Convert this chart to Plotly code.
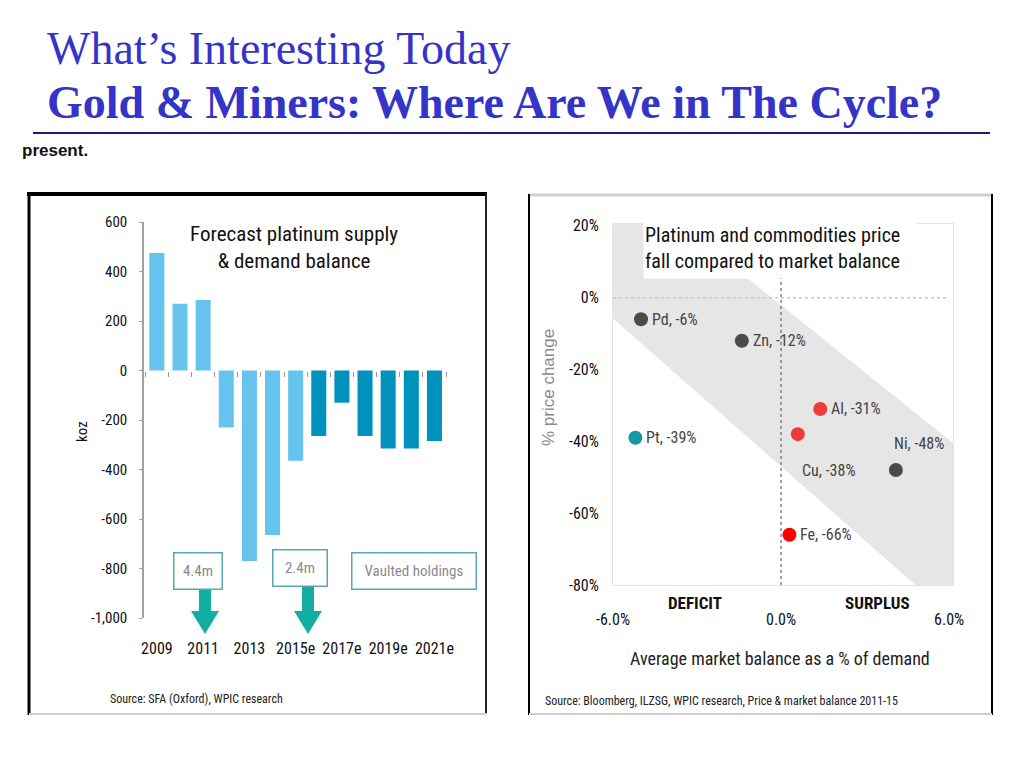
import plotly.graph_objects as go

# ---------------- data ----------------
years = ["2009", "2010", "2011", "2012", "2013", "2014", "2015",
         "2016e", "2017e", "2018e", "2019e", "2020e", "2021e"]
balance_koz = [475, 270, 285, -230, -770, -665, -365,
               -265, -130, -265, -315, -315, -285]
is_forecast = [False] * 7 + [True] * 6
year_tick_labels = ["2009", "2011", "2013", "2015e", "2017e", "2019e", "2021e"]
koz_ticks = [600, 400, 200, 0, -200, -400, -600, -800, -1000]
koz_tick_text = ["600", "400", "200", "0", "-200", "-400", "-600", "-800", "-1,000"]

metals = ["Pd", "Zn", "Al", "Cu", "Ni", "Fe", "Pt"]
mkt_balance = [-5.0, -1.4, 1.4, 0.6, 4.1, 0.3, -5.2]
price_change = [-6, -12, -31, -38, -48, -66, -39]
metal_colors = ["#4a4a4a", "#4a4a4a", "#ee3b3b", "#ee3b3b", "#4a4a4a", "#ff0000", "#1597a8"]
pct_ticks = [20, 0, -20, -40, -60, -80]
pct_tick_text = ["20%", "0%", "-20%", "-40%", "-60%", "-80%"]
bal_ticks = [-6, 0, 6]
bal_tick_text = ["-6.0%", "0.0%", "6.0%"]
band_x = [-6.0, -3.6, 6.14, 6.14, 4.8, -6.0, -6.0]
band_y = [20.5, 20.5, -40.5, -80.0, -80.0, -5.8, 20.5]

NARROW = "Liberation Sans Narrow, Arial Narrow, Roboto Condensed, Liberation Sans, Arial, sans-serif"
SERIF = "Liberation Serif, Times New Roman, serif"
TITLE_BLUE = "#3434c8"
W, H = 1024, 768
OFF = 8  # page body margin


def px(x):
    return (x - OFF) / W


def py(y):
    return 1 - (y - OFF) / H


fig = go.Figure()

# ---------------- left chart ----------------
fig.add_trace(go.Bar(
    x=years, y=balance_koz,
    marker=dict(color=["#0092bd" if f else "#66c3ee" for f in is_forecast], line=dict(width=0)),
    width=0.65, xaxis="x", yaxis="y", showlegend=False, hoverinfo="x+y",
))
fig.add_trace(go.Scatter(x=years, y=[None] * len(years), xaxis="x3", yaxis="y",
                         showlegend=False, hoverinfo="skip"))

# ---------------- right chart ----------------
fig.add_trace(go.Scatter(
    x=band_x, y=band_y, fill="toself", fillcolor="#e6e6e6", mode="none",
    xaxis="x2", yaxis="y2", showlegend=False, hoverinfo="skip",
))
fig.add_trace(go.Scatter(
    x=mkt_balance, y=price_change, mode="markers",
    marker=dict(size=14, color=metal_colors, line=dict(width=0)),
    xaxis="x2", yaxis="y2", showlegend=False,
    text=metals, hovertemplate="%{text}: %{x}, %{y}%<extra></extra>",
))

y_left_dom = [py(618), py(222)]
zero_pos = y_left_dom[0] + (0 - (-1000)) / 1600 * (y_left_dom[1] - y_left_dom[0])

fig.update_layout(
    width=W, height=H, autosize=False, showlegend=False,
    margin=dict(l=0, r=0, t=0, b=0, pad=0, autoexpand=False),
    paper_bgcolor="white", plot_bgcolor="rgba(0,0,0,0)",
    xaxis=dict(domain=[px(143), px(446)], type="category", range=[-0.6, 12.5],
               anchor="free", position=zero_pos, showline=False, ticks="outside",
               tickson="boundaries", ticklen=5, tickcolor="#999999", tickwidth=1,
               showticklabels=False, showgrid=False, zeroline=False, automargin=False),
    xaxis3=dict(domain=[px(143), px(446)], type="category", range=[-0.6, 12.5],
                overlaying="x", anchor="free", position=y_left_dom[0], showline=False,
                ticks="outside", ticklen=16, tickcolor="rgba(0,0,0,0)",
                tickvals=[years[i] for i in range(0, 13, 2)],
                ticktext=year_tick_labels,
                tickfont=dict(family=NARROW, size=16, color="#111"),
                showgrid=False, zeroline=False, automargin=False),
    yaxis=dict(domain=y_left_dom, range=[-1000, 600], anchor="free", position=px(143),
               showline=True, linecolor="#a0a0a0", linewidth=1.5,
               ticks="outside", ticklen=3, tickcolor="#a0a0a0", ticklabelstandoff=9,
               tickvals=koz_ticks, ticktext=koz_tick_text,
               tickfont=dict(family=NARROW, size=15, color="#111"),
               showgrid=False, zeroline=False, automargin=False),
    xaxis2=dict(domain=[px(613), px(953)], range=[-6.0, 6.14], anchor="y2",
                showline=True, mirror=True, linecolor="#e4e4e4", linewidth=1,
                ticks="outside", ticklen=20, tickcolor="rgba(0,0,0,0)",
                tickvals=bal_ticks, ticktext=bal_tick_text,
                tickfont=dict(family=NARROW, size=16, color="#111"),
                showgrid=False, zeroline=False, automargin=False),
    yaxis2=dict(domain=[py(585), py(224)], range=[-80, 20.5], anchor="x2",
                showline=True, mirror=True, linecolor="#e4e4e4", linewidth=1,
                ticks="outside", ticklen=10, tickcolor="rgba(0,0,0,0)",
                tickvals=pct_ticks, ticktext=pct_tick_text,
                tickfont=dict(family=NARROW, size=16, color="#111"),
                showgrid=False, zeroline=False, automargin=False),
)

shapes = []
shapes.append(dict(type="line", xref="paper", yref="paper", x0=px(33), x1=px(990),
                   y0=py(133), y1=py(133), line=dict(color="#1a1a7a", width=2)))
shapes += [
    dict(type="line", xref="paper", yref="paper", x0=px(27), x1=px(487), y0=py(194), y1=py(194),
         line=dict(color="#000", width=4)),
    dict(type="line", xref="paper", yref="paper", x0=px(29), x1=px(29), y0=py(193), y1=py(715),
         line=dict(color="#000", width=3)),
    dict(type="line", xref="paper", yref="paper", x0=px(486), x1=px(486), y0=py(193), y1=py(715),
         line=dict(color="#222", width=2)),
    dict(type="line", xref="paper", yref="paper", x0=px(29), x1=px(487), y0=py(714), y1=py(714),
         line=dict(color="#cfcfcf", width=2)),
]
shapes += [
    dict(type="line", xref="paper", yref="paper", x0=px(528), x1=px(993), y0=py(195), y1=py(195),
         line=dict(color="#cfcfcf", width=3)),
    dict(type="line", xref="paper", yref="paper", x0=px(529), x1=px(529), y0=py(194), y1=py(715),
         line=dict(color="#000", width=2)),
    dict(type="line", xref="paper", yref="paper", x0=px(992), x1=px(992), y0=py(194), y1=py(715),
         line=dict(color="#000", width=2)),
    dict(type="line", xref="paper", yref="paper", x0=px(529), x1=px(992), y0=py(714), y1=py(714),
         line=dict(color="#cfcfcf", width=2)),
]
shapes.append(dict(type="line", xref="x2", yref="y2", x0=-6.0, x1=6.0, y0=0, y1=0,
                   line=dict(color="#c8c8c8", width=1.5, dash="dot"), layer="above"))
shapes.append(dict(type="line", xref="x2", yref="y2", x0=0, x1=0, y0=-80, y1=20.5,
                   line=dict(color="#666", width=1.2, dash="dot"), layer="above"))
for cx, top in [(205, 590), (308, 586)]:
    shapes.append(dict(type="rect", xref="paper", yref="paper",
                       x0=px(cx - 6), x1=px(cx + 6), y0=py(613), y1=py(top),
                       fillcolor="#14ada3", line=dict(width=0)))
    shapes.append(dict(type="path", xref="paper", yref="paper",
                       path=f"M {px(cx-14)},{py(611)} L {px(cx+14)},{py(611)} L {px(cx)},{py(634)} Z",
                       fillcolor="#14ada3", line=dict(width=0)))
fig.update_layout(shapes=shapes)

ann = []
ann.append(dict(text="What’s Interesting Today", xref="paper", yref="paper",
                x=px(45), y=py(49), xanchor="left", yanchor="middle", showarrow=False,
                font=dict(family=SERIF, size=46, color=TITLE_BLUE)))
ann.append(dict(text="<b>Gold &amp; Miners: Where Are We in The Cycle?</b>", xref="paper", yref="paper",
                x=px(45), y=py(103), xanchor="left", yanchor="middle", showarrow=False,
                font=dict(family=SERIF, size=46, color=TITLE_BLUE)))
ann.append(dict(text="<b>present.</b>", xref="paper", yref="paper",
                x=px(20), y=py(151), xanchor="left", yanchor="middle", showarrow=False,
                font=dict(family="Liberation Sans, Arial, sans-serif", size=17, color="#111")))

ann.append(dict(text="Forecast platinum supply<br>&amp; demand balance", xref="paper", yref="paper",
                x=px(294), y=py(247), xanchor="center", yanchor="middle", showarrow=False,
                font=dict(family=NARROW, size=21, color="#111")))
ann.append(dict(text="koz", xref="paper", yref="paper", x=px(82), y=py(432), textangle=-90,
                xanchor="center", yanchor="middle", showarrow=False,
                font=dict(family=NARROW, size=15, color="#111")))
for label, cx, cy, w, h in [("4.4m", 198, 571, 45, 33), ("2.4m", 300, 568, 51, 33),
                            ("Vaulted holdings", 414, 571, 121, 33)]:
    ann.append(dict(text=label, xref="paper", yref="paper", x=px(cx), y=py(cy),
                    xanchor="center", yanchor="middle", showarrow=False,
                    width=w, height=h, bgcolor="white", bordercolor="#5aa5b5", borderwidth=1.5,
                    font=dict(family=NARROW, size=15, color="#8a8a8a")))
ann.append(dict(text="Source: SFA (Oxford), WPIC research", xref="paper", yref="paper",
                x=px(108), y=py(699), xanchor="left", yanchor="middle", showarrow=False,
                font=dict(family=NARROW, size=12, color="#222")))

ann.append(dict(text="Platinum and commodities price<br>fall compared to market balance",
                xref="paper", yref="paper", x=px(643), y=py(248), xanchor="left", yanchor="middle",
                showarrow=False, align="left", width=270, height=58, bgcolor="white",
                font=dict(family=NARROW, size=20, color="#111")))
ann.append(dict(text="% price change", xref="paper", yref="paper", x=px(548), y=py(388), textangle=-90,
                xanchor="center", yanchor="middle", showarrow=False,
                font=dict(family="Liberation Sans, Arial, sans-serif", size=17, color="#8a8a8a")))
ann.append(dict(text="<b>DEFICIT</b>", xref="paper", yref="paper", x=px(695), y=py(603),
                xanchor="center", yanchor="middle", showarrow=False,
                font=dict(family=NARROW, size=17, color="#111")))
ann.append(dict(text="<b>SURPLUS</b>", xref="paper", yref="paper", x=px(877), y=py(603),
                xanchor="center", yanchor="middle", showarrow=False,
                font=dict(family=NARROW, size=17, color="#111")))
ann.append(dict(text="Average market balance as a % of demand", xref="paper", yref="paper",
                x=px(780), y=py(658), xanchor="center", yanchor="middle", showarrow=False,
                font=dict(family=NARROW, size=18, color="#222")))
ann.append(dict(text="Source: Bloomberg, ILZSG, WPIC research, Price &amp; market balance 2011-15",
                xref="paper", yref="paper", x=px(543), y=py(701), xanchor="left", yanchor="middle",
                showarrow=False, font=dict(family=NARROW, size=12, color="#222")))

label_offsets = {"Ni": (-4, 27), "Cu": (2, -36)}
for m, xv, yv in zip(metals, mkt_balance, price_change):
    dx, dy = label_offsets.get(m, (9, 0))
    ann.append(dict(text=f"{m}, {yv}%", xref="x2", yref="y2", x=xv, y=yv,
                    xanchor="left", yanchor="middle", xshift=dx, yshift=dy, showarrow=False,
                    font=dict(family=NARROW, size=16, color="#444")))

fig.update_layout(annotations=ann)
fig.write_html("out.html")
